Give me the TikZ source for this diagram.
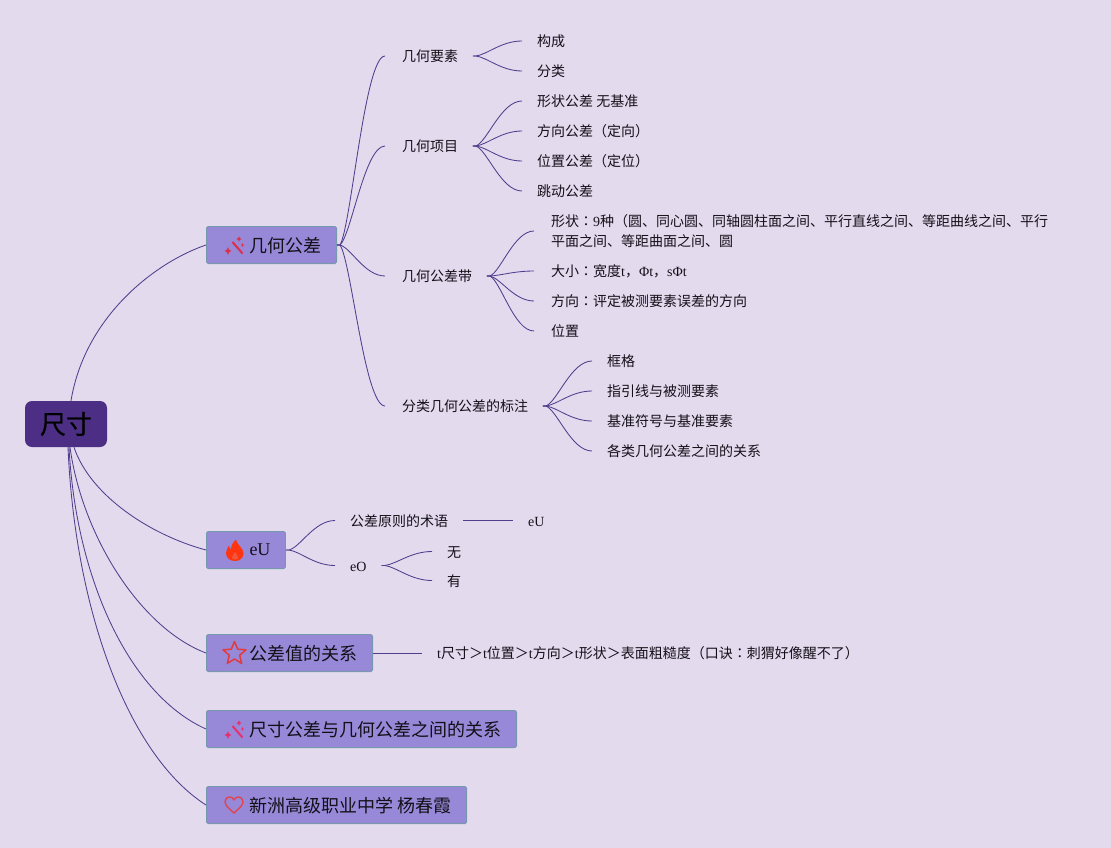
\documentclass[tikz,border=0pt]{standalone}
\usepackage{fontspec}
\setmainfont{Noto Sans CJK SC}
\newfontfamily\lat{Liberation Serif}
\newfontfamily\tcfont{Noto Sans CJK TC}
\newfontfamily\rootfont[FakeBold=0.5]{Noto Sans CJK SC}
\newcommand\ccolon{{\tcfont ：}}
\usetikzlibrary{calc}
\definecolor{bgc}{HTML}{E3DAEE}
\definecolor{linec}{HTML}{4F3F8C}
\definecolor{boxc}{HTML}{9788D8}
\definecolor{boxe}{HTML}{7898B0}
\definecolor{rootc}{HTML}{4C2F85}
\definecolor{txt}{HTML}{141018}
\definecolor{wandred}{HTML}{DC3048}
\definecolor{wandpink}{HTML}{E8306E}
\definecolor{flamec}{HTML}{FF3410}
\definecolor{flamein}{HTML}{F0583C}
\definecolor{starc}{HTML}{E23A3E}
\definecolor{heartc}{HTML}{E04650}
\tikzset{
  x=1pt,y=-1pt,
  conn/.style={draw=linec,line width=0.85pt},
  leaf/.style={anchor=west,inner xsep=15pt,inner ysep=0pt,text=txt,text height=12.5pt,text depth=1.5pt,font=\fontsize{14}{20}\selectfont},
  leafb/.style={leaf,inner xsep=14.5pt,execute at begin node={\hspace*{2.5pt}}},
  mainbox/.style={anchor=west,draw=boxe,line width=1pt,fill=boxc,rounded corners=1.5pt,inner xsep=15pt,inner ysep=0pt,minimum height=37pt,text=txt,text height=17pt,text depth=3pt,font=\fontsize{18}{22}\selectfont},
  rootbox/.style={fill=rootc,rounded corners=7pt,minimum width=82pt,minimum height=46pt,inner sep=0pt,text=black,font=\fontsize{26}{30}\rootfont},
}
\newcommand\cn[2]{\draw[conn] let \p1=(#1.east),\p2=(#2.west) in (\p1) -- ++(3,0) .. controls ({\x1+3pt+0.25*(\x2-\x1-3pt)},{\y1+0.1*(\y2-\y1)}) and ({\x2-0.45*(\x2-\x1-3pt)},\y2) .. (\p2);}
\newcommand\icn{\rule{28pt}{0pt}}
\newcommand\wandicon[3]{%
  \begin{scope}[shift={(#1,#2)}]
    \draw[#3,line width=2pt] (-4.5,-3) -- (5.5,8.5);
    \fill[#3] (-9,2.2) -- (-7.8,4.8) -- (-5.6,6) -- (-7.8,7.2) -- (-9,9.8) -- (-10.2,7.2) -- (-12.4,6) -- (-10.2,4.8) -- cycle;
    \fill[#3] (2,-8.6) -- (2.9,-6.9) -- (4.6,-6) -- (2.9,-5.1) -- (2,-3.4) -- (1.1,-5.1) -- (-0.6,-6) -- (1.1,-6.9) -- cycle;
    \fill[#3] (5.5,-2) -- (6,-0.5) -- (7.5,0) -- (6,0.5) -- (5.5,2) -- (5,0.5) -- (3.5,0) -- (5,-0.5) -- cycle;
  \end{scope}}
\begin{document}
\begin{tikzpicture}
\useasboundingbox (0,0) rectangle (1111,848);
\fill[bgc] (0,0) rectangle (1111,848);

\node[rootbox] (root) at (66,424) {尺寸};

\node[mainbox] (m1) at (206,245) {\icn 几何公差};
\node[mainbox] (m2) at (206,550) {\icn \raisebox{1.2pt}{\lat eU}};
\node[mainbox] (m3) at (206,653) {\icn 公差值的关系};
\node[mainbox] (m4) at (206,729) {\icn 尺寸公差与几何公差之间的关系};
\node[mainbox] (m5) at (206,805) {\icn 新洲高级职业中学 杨春霞};

% level 2 under m1
\node[leafb] (a1) at (385,56) {几何要素};
\node[leafb] (a2) at (385,146) {几何项目};
\node[leafb] (a3) at (385,276) {几何公差带};
\node[leafb] (a4) at (385,406) {分类几何公差的标注};

\node[leaf] (a11) at (522,41) {构成};
\node[leaf] (a12) at (522,71) {分类};

\node[leaf] (a21) at (522,101) {形状公差 无基准};
\node[leaf] (a22) at (522,131) {方向公差（定向）};
\node[leaf] (a23) at (522,161) {位置公差（定位）};
\node[leaf] (a24) at (522,191) {跳动公差};

\node[leaf,inner xsep=17pt,text height=,text depth=,align=left] (a31) at (534,231) {形状\ccolon{\lat 9}种（圆、同心圆、同轴圆柱面之间、平行直线之间、等距曲线之间、平行\\平面之间、等距曲面之间、圆};
\node[leafb] (a32) at (534,271) {大小\ccolon 宽度{\lat t}，{\lat Φt}，{\lat sΦt}};
\node[leafb] (a33) at (534,301) {方向\ccolon 评定被测要素误差的方向};
\node[leafb] (a34) at (534,331) {位置};

\node[leaf] (a41) at (592,361) {框格};
\node[leaf] (a42) at (592,391) {指引线与被测要素};
\node[leaf] (a43) at (592,421) {基准符号与基准要素};
\node[leaf] (a44) at (592,451) {各类几何公差之间的关系};

% under m2
\node[leaf] (b1) at (335,520.5) {公差原则的术语};
\node[leaf] (b2) at (335,565.5) {{\lat eO}};
\node[leaf] (b11) at (513,520.5) {{\lat eU}};
\node[leaf] (b21) at (432,551.5) {无};
\node[leaf] (b22) at (432,580.5) {有};

% under m3
\node[leaf] (c1) at (422,653) {{\lat t}尺寸＞{\lat t}位置＞{\lat t}方向＞{\lat t}形状＞表面粗糙度（口诀\ccolon 刺猬好像醒不了）};

% root connectors
\draw[conn] ([xshift=5pt]root.north) .. controls +(14,-85) and +(-50,17) .. (m1.west);
\draw[conn] ([xshift=8pt]root.south) .. controls +(16,48) and +(-56,-15) .. (m2.west);
\draw[conn] ([xshift=4pt]root.south) .. controls +(12,88) and +(-66,-25) .. (m3.west);
\draw[conn] ([xshift=3pt]root.south) .. controls +(7,133) and +(-76,-34) .. (m4.west);
\draw[conn] ([xshift=2pt]root.south) .. controls +(7,163) and +(-78,-50) .. (m5.west);

\cn{m1}{a1}\cn{m1}{a2}\cn{m1}{a3}\cn{m1}{a4}
\cn{a1}{a11}\cn{a1}{a12}
\cn{a2}{a21}\cn{a2}{a22}\cn{a2}{a23}\cn{a2}{a24}
\cn{a3}{a31}\cn{a3}{a32}\cn{a3}{a33}\cn{a3}{a34}
\cn{a4}{a41}\cn{a4}{a42}\cn{a4}{a43}\cn{a4}{a44}
\cn{m2}{b1}\cn{m2}{b2}
\draw[conn] (b1.east) -- (b11.west);
\cn{b2}{b21}\cn{b2}{b22}
\draw[conn] (m3.east) -- (c1.west);

% icons
\wandicon{237}{245}{wandred}
\wandicon{237}{729}{wandpink}
\fill[flamec] (236,539.5) .. controls (237,545) and (243.5,548) .. (243.5,553.5) .. controls (243.5,558) and (239.5,561) .. (235,561) .. controls (230,561) and (226,558) .. (226,553) .. controls (226,550) and (228,547.5) .. (229,545.5) .. controls (229.5,547.5) and (230,549) .. (231,549.5) .. controls (231,546) and (232.5,542.5) .. (236,539.5) -- cycle;
\fill[flamein] (235,552) .. controls (236,554.5) and (238.5,555.5) .. (238,558) .. controls (237.5,560) and (232.5,560) .. (232,558) .. controls (231.5,556) and (234,554.5) .. (235,552) -- cycle;
\draw[starc,line width=1.5pt,line join=round] (234.5,641.5) -- (237.7,649.2) -- (246,649.8) -- (239.7,655.2) -- (241.7,663.4) -- (234.5,659) -- (227.3,663.4) -- (229.3,655.2) -- (223,649.8) -- (231.3,649.2) -- cycle;
\draw[heartc,line width=1.4pt,line join=round] (234,813) .. controls (229,808.5) and (225,805.5) .. (225,801.5) .. controls (225,798.5) and (227.5,797) .. (229.5,797) .. controls (231.5,797) and (233,798) .. (234,800) .. controls (235,798) and (236.5,797) .. (238.5,797) .. controls (240.5,797) and (243,798.5) .. (243,801.5) .. controls (243,805.5) and (239,808.5) .. (234,813) -- cycle;
\end{tikzpicture}
\end{document}
